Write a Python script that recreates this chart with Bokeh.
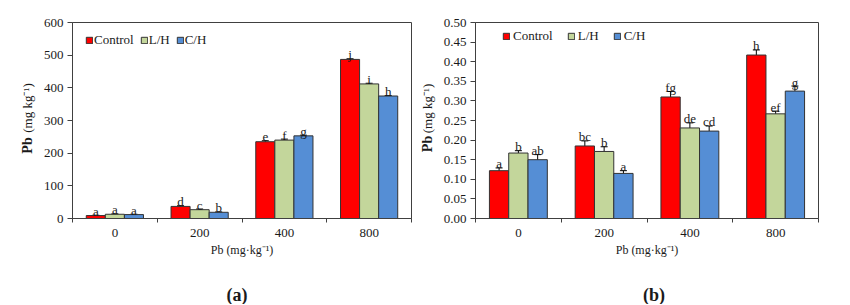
from bokeh.plotting import figure
from bokeh.models import (Range1d, FixedTicker, NumeralTickFormatter, Whisker, TeeHead,
                          ColumnDataSource, Label, Legend, LegendItem)
from bokeh.layouts import row, column
from bokeh.embed import file_html
from bokeh.resources import INLINE
from bokeh.core.properties import value

categories = ["0", "200", "400", "800"]
series = ["Control", "L/H", "C/H"]
colors = ["#FF0000", "#C3D69B", "#558ED5"]

# Panel (a)
a_control = [9, 37, 235, 487]
a_lh = [13, 27, 240, 412]
a_ch = [12, 19, 253, 375]
a_control_err = [1, 2, 3, 2]
a_lh_err = [1, 2, 3, 2]
a_ch_err = [1, 1, 2, 1]
a_control_let = ["a", "d", "e", "j"]
a_lh_let = ["a", "c", "f", "i"]
a_ch_let = ["a", "b", "g", "h"]

# Panel (b)
b_control = [0.122, 0.185, 0.310, 0.417]
b_lh = [0.167, 0.171, 0.231, 0.267]
b_ch = [0.150, 0.115, 0.223, 0.325]
b_control_err = [0.007, 0.013, 0.014, 0.013]
b_lh_err = [0.006, 0.012, 0.013, 0.007]
b_ch_err = [0.013, 0.007, 0.013, 0.013]
b_control_let = ["a", "bc", "fg", "h"]
b_lh_let = ["b", "b", "de", "ef"]
b_ch_let = ["ab", "a", "cd", "g"]

a_yticks = [0, 100, 200, 300, 400, 500, 600]
b_yticks = [0.0, 0.05, 0.10, 0.15, 0.20, 0.25, 0.30, 0.35, 0.40, 0.45, 0.50]

SERIF = "Liberation Serif"
AXC = "#404040"
TXT = "#1a1a1a"
BW = 0.225
H = 266
FRAME_H = 196
STRIP_H = 38


def blank_fig(width, height, yr):
    f = figure(width=width, height=height, output_backend="svg", toolbar_location=None,
               x_range=Range1d(0, width), y_range=yr,
               x_axis_location=None, y_axis_location=None,
               min_border=0, outline_line_color=None,
               background_fill_color="white", border_fill_color="white")
    f.grid.visible = False
    return f


def ylabel_fig(width, x, y1, y2):
    f = blank_fig(width, H, Range1d(0, FRAME_H))
    f.add_layout(Label(x=x, y=y1, text="Pb",
                       angle=90, angle_units="deg", text_align="center", text_baseline="middle",
                       text_font=SERIF, text_font_style="bold", text_font_size="14px",
                       text_color=TXT))
    f.add_layout(Label(x=x, y=y2, text="(mg kg\u207b\u00b9)",
                       angle=90, angle_units="deg", text_align="center", text_baseline="middle",
                       text_font=SERIF, text_font_size="13px", text_color=TXT))
    return f


def panel(vals, errs, lets, yticks, ymax, fmt, width, bl, br, leg_xy, leg_spacing, leg_standoff,
          let_off):
    p = figure(width=width, height=H, output_backend="svg", toolbar_location=None,
               x_range=Range1d(0, len(categories)), y_range=Range1d(0, ymax),
               min_border_left=bl, min_border_right=br, min_border_top=22,
               min_border_bottom=H - 22 - FRAME_H,
               background_fill_color="white", border_fill_color="white")
    p.grid.visible = False
    p.outline_line_color = AXC
    p.outline_line_width = 1

    items = []
    for j in range(3):
        xs = [i + 0.5 + (j - 1) * BW for i in range(len(categories))]
        src = ColumnDataSource(dict(x=xs, top=vals[j],
                                    upper=[v + e for v, e in zip(vals[j], errs[j])],
                                    lower=[v - e for v, e in zip(vals[j], errs[j])],
                                    let=lets[j]))
        r = p.vbar(x="x", top="top", bottom=0, width=BW, source=src,
                   fill_color=colors[j], line_color="#333333", line_width=1)
        items.append(LegendItem(label=series[j], renderers=[r]))
        w = Whisker(source=src, base="x", upper="upper", lower="lower", dimension="height",
                    line_color="black", line_width=1,
                    upper_head=TeeHead(size=7, line_color="black", line_width=1),
                    lower_head=TeeHead(size=7, line_color="black", line_width=1))
        p.add_layout(w)
        p.text(x="x", y="upper", text="let", source=src, text_align="center",
               text_baseline="alphabetic", y_offset=let_off,
               text_font=value(SERIF), text_font_size="13px", text_color=TXT)

    leg = Legend(items=items, orientation="horizontal", location=leg_xy,
                 border_line_color=None, background_fill_alpha=0,
                 padding=0, margin=0, spacing=leg_spacing,
                 glyph_width=8, glyph_height=8, label_standoff=leg_standoff, label_height=16,
                 label_text_font=SERIF, label_text_font_size="13px", label_text_color=TXT)
    p.add_layout(leg)

    ya = p.yaxis[0]
    ya.ticker = FixedTicker(ticks=yticks, minor_ticks=[])
    if fmt:
        ya.formatter = NumeralTickFormatter(format=fmt)
    ya.major_tick_out = 5
    ya.major_tick_in = 0
    ya.major_label_standoff = 4
    ya.axis_line_color = AXC
    ya.major_tick_line_color = AXC
    ya.major_label_text_font = SERIF
    ya.major_label_text_font_size = "13px"
    ya.major_label_text_color = TXT

    xa = p.xaxis[0]
    centers = [i + 0.5 for i in range(len(categories))]
    xa.ticker = FixedTicker(ticks=centers, minor_ticks=list(range(len(categories) + 1)))
    xa.major_label_overrides = {c: lab for c, lab in zip(centers, categories)}
    xa.major_tick_line_color = None
    xa.major_tick_out = 0
    xa.major_tick_in = 0
    xa.minor_tick_out = 4
    xa.minor_tick_in = 0
    xa.minor_tick_line_color = AXC
    xa.axis_line_color = AXC
    xa.major_label_standoff = 6
    xa.major_label_text_font = SERIF
    xa.major_label_text_font_size = "13px"
    xa.major_label_text_color = TXT
    xa.axis_label = "Pb (mg\u00b7kg\u207b\u00b9)"
    xa.axis_label_text_font = SERIF
    xa.axis_label_text_font_style = "normal"
    xa.axis_label_text_font_size = "12px"
    xa.axis_label_text_color = TXT
    xa.axis_label_standoff = 3
    return p


la = ylabel_fig(40, 27, 73, 110.5)
pa = panel([a_control, a_lh, a_ch], [a_control_err, a_lh_err, a_ch_err],
           [a_control_let, a_lh_let, a_ch_let], a_yticks, 600, None,
           376, 32, 5, (13, 170), 6, 1, -4)
lb = ylabel_fig(24, 11, 74.5, 110)
pb = panel([b_control, b_lh, b_ch], [b_control_err, b_lh_err, b_ch_err],
           [b_control_let, b_lh_let, b_ch_let], b_yticks, 0.5, "0.00",
           392, 34, 14, (27, 174), 14, 3, -4)

strip = blank_fig(832, STRIP_H, Range1d(0, STRIP_H))
for tag, tx in (("(a)", 236.5), ("(b)", 653.5)):
    strip.add_layout(Label(x=tx, y=10, text=tag, text_align="center", text_baseline="middle",
                           text_font=SERIF, text_font_style="bold", text_font_size="18px",
                           text_color=TXT))

layout = column(row(la, pa, lb, pb), strip)
open("out.html", "w").write(file_html(layout, INLINE))
